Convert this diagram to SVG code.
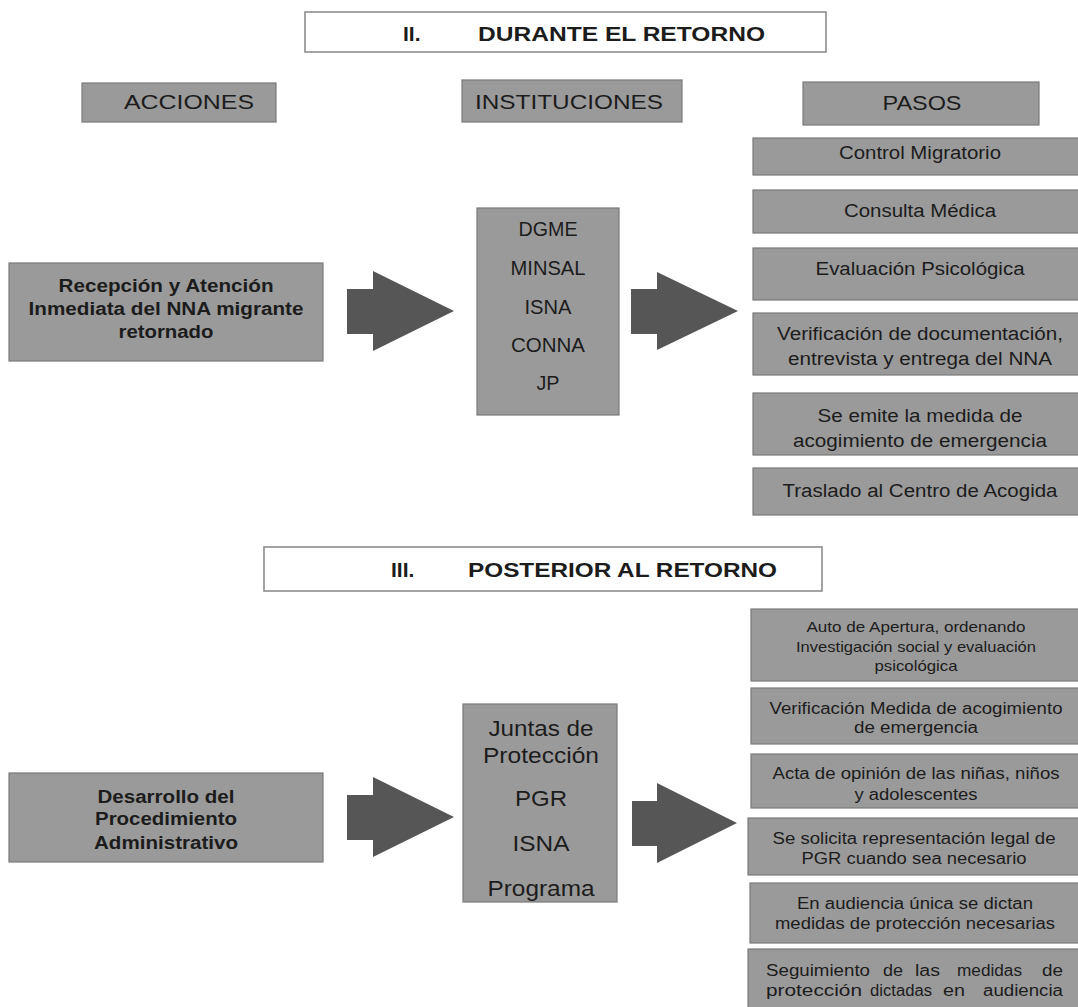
<svg xmlns="http://www.w3.org/2000/svg" width="1078" height="1007" viewBox="0 0 1078 1007">
<style>
.box{fill:#9a9a9a;stroke:#7a7a7a;stroke-width:1.2}
.ttl{fill:#ffffff;stroke:#8c8c8c;stroke-width:1.6}
.arrow{fill:#565656}
text{font-family:"Liberation Sans",Arial,sans-serif;fill:#1c1c1c;text-anchor:middle}
.hd{font-size:20px}
.tt{font-size:21px;font-weight:bold;text-anchor:start}
.s18{font-size:18px}
.b18{font-size:18px;font-weight:bold}
.s20{font-size:20px}
.s22{font-size:22px}
.s16{font-size:16px}
.s14{font-size:14.5px}
.w{text-anchor:start}
</style>
<defs>
<clipPath id="clipMid"><rect x="463" y="704" width="154" height="198"/></clipPath>
</defs>
<rect width="1078" height="1007" fill="#ffffff"/>

<g id="title-ii">
<rect class="ttl" x="305" y="12" width="521" height="40"/>
<text class="tt" x="403" y="41">II.</text>
<text class="tt" x="478" y="41" textLength="287" lengthAdjust="spacingAndGlyphs">DURANTE EL RETORNO</text>
</g>

<g id="hdr-acciones">
<rect class="box" x="82" y="83" width="194" height="39"/>
<text class="hd" x="189" y="109" textLength="130" lengthAdjust="spacingAndGlyphs">ACCIONES</text>
</g>
<g id="hdr-instituciones">
<rect class="box" x="462" y="80" width="220" height="42"/>
<text class="hd" x="569" y="109" textLength="188" lengthAdjust="spacingAndGlyphs">INSTITUCIONES</text>
</g>
<g id="hdr-pasos">
<rect class="box" x="803" y="82" width="236" height="43"/>
<text class="hd" x="922" y="110" textLength="79" lengthAdjust="spacingAndGlyphs">PASOS</text>
</g>

<g id="accion-ii">
<rect class="box" x="9" y="263" width="314" height="98"/>
<text class="b18" x="166" y="291.5" textLength="215" lengthAdjust="spacingAndGlyphs">Recepción y Atención</text>
<text class="b18" x="166" y="314.5" textLength="275" lengthAdjust="spacingAndGlyphs">Inmediata del NNA migrante</text>
<text class="b18" x="166" y="337.5" textLength="95" lengthAdjust="spacingAndGlyphs">retornado</text>
</g>

<g id="inst-ii">
<rect class="box" x="477" y="208" width="142" height="207"/>
<text class="s20" x="548" y="236" textLength="59" lengthAdjust="spacingAndGlyphs">DGME</text>
<text class="s20" x="548" y="275" textLength="75" lengthAdjust="spacingAndGlyphs">MINSAL</text>
<text class="s20" x="548" y="314" textLength="47" lengthAdjust="spacingAndGlyphs">ISNA</text>
<text class="s20" x="548" y="352" textLength="74" lengthAdjust="spacingAndGlyphs">CONNA</text>
<text class="s20" x="548" y="390" textLength="23" lengthAdjust="spacingAndGlyphs">JP</text>
</g>

<g id="paso-ii-1">
<rect class="box" x="753" y="138" width="340" height="37"/>
<text class="s18" x="920" y="158.5" textLength="162" lengthAdjust="spacingAndGlyphs">Control Migratorio</text>
</g>
<g id="paso-ii-2">
<rect class="box" x="753" y="190" width="340" height="43"/>
<text class="s18" x="920" y="216.5" textLength="152" lengthAdjust="spacingAndGlyphs">Consulta Médica</text>
</g>
<g id="paso-ii-3">
<rect class="box" x="753" y="248" width="340" height="52"/>
<text class="s18" x="920" y="274.5" textLength="209" lengthAdjust="spacingAndGlyphs">Evaluación Psicológica</text>
</g>
<g id="paso-ii-4">
<rect class="box" x="753" y="313" width="340" height="62"/>
<text class="s18" x="920" y="339.5" textLength="286" lengthAdjust="spacingAndGlyphs">Verificación de documentación,</text>
<text class="s18" x="920" y="364.5" textLength="264" lengthAdjust="spacingAndGlyphs">entrevista y entrega del NNA</text>
</g>
<g id="paso-ii-5">
<rect class="box" x="753" y="393" width="340" height="62"/>
<text class="s18" x="920" y="421.5" textLength="205" lengthAdjust="spacingAndGlyphs">Se emite la medida de</text>
<text class="s18" x="920" y="446.5" textLength="254" lengthAdjust="spacingAndGlyphs">acogimiento de emergencia</text>
</g>
<g id="paso-ii-6">
<rect class="box" x="753" y="468" width="340" height="47"/>
<text class="s18" x="920" y="496.5" textLength="275" lengthAdjust="spacingAndGlyphs">Traslado al Centro de Acogida</text>
</g>

<g id="title-iii">
<rect class="ttl" x="264" y="547" width="558" height="44"/>
<text class="tt" x="391" y="577">III.</text>
<text class="tt" x="468" y="577" textLength="309" lengthAdjust="spacingAndGlyphs">POSTERIOR AL RETORNO</text>
</g>

<g id="accion-iii">
<rect class="box" x="9" y="773" width="314" height="89"/>
<text class="b18" x="166" y="802.5" textLength="137" lengthAdjust="spacingAndGlyphs">Desarrollo del</text>
<text class="b18" x="166" y="824.5" textLength="142" lengthAdjust="spacingAndGlyphs">Procedimiento</text>
<text class="b18" x="166" y="848.5" textLength="144" lengthAdjust="spacingAndGlyphs">Administrativo</text>
</g>

<g id="inst-iii">
<rect class="box" x="463" y="704" width="154" height="198"/>
<g clip-path="url(#clipMid)">
<text class="s22" x="541" y="736" textLength="105" lengthAdjust="spacingAndGlyphs">Juntas de</text>
<text class="s22" x="541" y="763" textLength="116" lengthAdjust="spacingAndGlyphs">Protección</text>
<text class="s22" x="541" y="806" textLength="52" lengthAdjust="spacingAndGlyphs">PGR</text>
<text class="s22" x="541" y="851" textLength="57" lengthAdjust="spacingAndGlyphs">ISNA</text>
<text class="s22" x="541" y="896" textLength="107" lengthAdjust="spacingAndGlyphs">Programa</text>
</g>
</g>

<g id="paso-iii-1">
<rect class="box" x="751" y="609" width="342" height="72"/>
<text class="s14" x="916" y="632" textLength="219" lengthAdjust="spacingAndGlyphs">Auto de Apertura,  ordenando</text>
<text class="s14" x="916" y="652" textLength="240" lengthAdjust="spacingAndGlyphs">Investigación social y evaluación</text>
<text class="s14" x="916" y="671" textLength="83" lengthAdjust="spacingAndGlyphs">psicológica</text>
</g>
<g id="paso-iii-2">
<rect class="box" x="751" y="688" width="342" height="56"/>
<text class="s16" x="916" y="713.5" textLength="293" lengthAdjust="spacingAndGlyphs">Verificación Medida de acogimiento</text>
<text class="s16" x="916" y="732.5" textLength="124" lengthAdjust="spacingAndGlyphs">de emergencia</text>
</g>
<g id="paso-iii-3">
<rect class="box" x="751" y="754" width="342" height="54"/>
<text class="s16" x="916" y="779" textLength="287" lengthAdjust="spacingAndGlyphs">Acta de opinión de las niñas, niños</text>
<text class="s16" x="916" y="800" textLength="123" lengthAdjust="spacingAndGlyphs">y adolescentes</text>
</g>
<g id="paso-iii-4">
<rect class="box" x="748" y="818" width="345" height="57"/>
<text class="s16" x="914" y="844" textLength="283" lengthAdjust="spacingAndGlyphs">Se solicita representación legal de</text>
<text class="s16" x="914" y="864" textLength="225" lengthAdjust="spacingAndGlyphs">PGR cuando sea necesario</text>
</g>
<g id="paso-iii-5">
<rect class="box" x="750" y="883" width="343" height="60"/>
<text class="s16" x="915" y="909" textLength="236" lengthAdjust="spacingAndGlyphs">En audiencia única se dictan</text>
<text class="s16" x="915" y="929" textLength="280" lengthAdjust="spacingAndGlyphs">medidas de protección necesarias</text>
</g>
<g id="paso-iii-6">
<rect class="box" x="748" y="949" width="345" height="70"/>
<text class="s16 w" x="766" y="976" textLength="104" lengthAdjust="spacingAndGlyphs">Seguimiento</text>
<text class="s16 w" x="883" y="976" textLength="20" lengthAdjust="spacingAndGlyphs">de</text>
<text class="s16 w" x="915" y="976" textLength="25" lengthAdjust="spacingAndGlyphs">las</text>
<text class="s16 w" x="957" y="976" textLength="65" lengthAdjust="spacingAndGlyphs">medidas</text>
<text class="s16 w" x="1042" y="976" textLength="21" lengthAdjust="spacingAndGlyphs">de</text>
<text class="s16 w" x="766" y="996" textLength="96" lengthAdjust="spacingAndGlyphs">protección</text>
<text class="s16 w" x="870" y="996" textLength="62" lengthAdjust="spacingAndGlyphs">dictadas</text>
<text class="s16 w" x="943" y="996" textLength="22" lengthAdjust="spacingAndGlyphs">en</text>
<text class="s16 w" x="983" y="996" textLength="80" lengthAdjust="spacingAndGlyphs">audiencia</text>
</g>

<g id="connectors">
<polygon class="arrow" points="347,289 373,289 373,271 454,311 373,351 373,334 347,334"/>
<polygon class="arrow" points="631,289 657,289 657,272 738,311 657,350 657,334 631,334"/>
<polygon class="arrow" points="347,795 373,795 373,777 454,817 373,857 373,840 347,840"/>
<polygon class="arrow" points="632,801 657,801 657,783 737,823 657,863 657,846 632,846"/>
</g>
</svg>
